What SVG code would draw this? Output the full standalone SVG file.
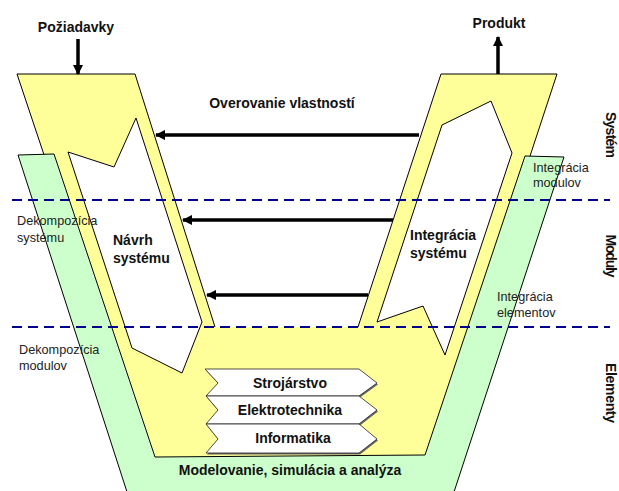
<svg xmlns="http://www.w3.org/2000/svg" width="619" height="491" viewBox="0 0 619 491">
<defs>
<style>
.t{font-family:"Liberation Sans",Arial,sans-serif;fill:#111}
.b{font-weight:bold;font-size:14px}
.r{font-size:12.7px;fill:#222}
.ln{fill:none;stroke:#000;stroke-width:1}
.dash{stroke:#00008b;stroke-width:2;stroke-dasharray:10 6;fill:none}
.arr{stroke:#000;stroke-width:3.5;fill:none;marker-end:url(#ah)}
.box{fill:#fff;stroke:#222;stroke-width:0.8}
.sh{fill:#666}
</style>
<marker id="ah" viewBox="0 0 10 10" refX="9" refY="5" markerWidth="3" markerHeight="3" orient="auto" markerUnits="strokeWidth">
<path d="M0,0 L10,5 L0,10 Z" fill="#000"/>
</marker>
</defs>
<rect width="619" height="491" fill="#fff"/>

<g id="yellow-v">
<path d="M17,74 L135,74 L215,327 L358,327 L441,74 L557,74 L430,460 L146,460 Z" fill="#ffff99"/>
<path class="ln" d="M215,327 L135,74 L17,74 L146,460 M358,327 L441,74 L557,74 L430,460"/>
</g>

<g id="green-v">
<path d="M18,155 L54,154 L155,457 L425,455 L525,156 L564,157 L453,495 L128,495 Z" fill="#ccffcc" stroke="#000" stroke-width="1"/>
</g>

<g id="navrh-notch">
<path d="M136,118 L114,167 L68,152 L132,348 L182,373 L202,322 Z" fill="#fff" stroke="#000" stroke-width="1"/>
</g>
<g id="integracia-notch">
<path d="M442,125 L491,101 L512,153 L445,355 L423,306 L377,322 Z" fill="#fff" stroke="#000" stroke-width="1"/>
</g>

<g id="levels">
<line class="dash" x1="12" y1="200" x2="610" y2="200"/>
<line class="dash" x1="12" y1="327" x2="610" y2="327"/>
</g>

<g id="strojarstvo">
<path class="sh" d="M206,370.5 L360,370.5 L378,384.5 L360,397.5 L207,397.5 L219,384.5 Z"/>
<path class="box" d="M205,369 L359,369 L377,383 L359,396 L206,396 L218,383 Z"/>
<text class="t b" x="290" y="388" text-anchor="middle">Strojárstvo</text>
</g>
<g id="elektrotechnika">
<path class="sh" d="M207,397.5 L360,397.5 L378,411.5 L360,425.5 L207,425.5 L219,411.5 Z"/>
<path class="box" d="M206,396 L359,396 L377,410 L359,424 L206,424 L218,410 Z"/>
<text class="t b" x="290" y="415" text-anchor="middle">Elektrotechnika</text>
</g>
<g id="informatika">
<path class="sh" d="M207,425.5 L360,425.5 L378,440.5 L360,454.5 L207,454.5 L219,440.5 Z"/>
<path class="box" d="M206,424 L359,424 L377,439 L359,453 L206,453 L218,439 Z"/>
<text class="t b" x="293" y="443" text-anchor="middle">Informatika</text>
</g>

<g id="connectors">
<line class="arr" x1="78" y1="39" x2="78" y2="74"/>
<line class="arr" x1="498" y1="74" x2="498" y2="37"/>
<line class="arr" x1="419" y1="135" x2="156" y2="135"/>
<line class="arr" x1="393" y1="220" x2="183" y2="220"/>
<line class="arr" x1="368" y1="295" x2="207" y2="295"/>
</g>

<g id="labels">
<text class="t b" x="76" y="32" text-anchor="middle">Požiadavky</text>
<text class="t b" x="499" y="28" text-anchor="middle">Produkt</text>
<text class="t b" x="282" y="108" text-anchor="middle">Overovanie vlastností</text>
<text class="t b" x="113" y="245">Návrh</text>
<text class="t b" x="113" y="263">systému</text>
<text class="t b" x="410" y="240">Integrácia</text>
<text class="t b" x="410" y="258">systému</text>
<text class="t b" x="290" y="475" text-anchor="middle">Modelovanie, simulácia a analýza</text>
<text class="t r" x="17" y="225">Dekompozícia</text>
<text class="t r" x="17" y="242">systému</text>
<text class="t r" x="19" y="354">Dekompozícia</text>
<text class="t r" x="19" y="370">modulov</text>
<text class="t r" x="533" y="172">Integrácia</text>
<text class="t r" x="533" y="187">modulov</text>
<text class="t r" x="497" y="301">Integrácia</text>
<text class="t r" x="497" y="317">elementov</text>
<text class="t b" font-size="13" transform="translate(606,135) rotate(90)" text-anchor="middle" textLength="46">Systém</text>
<text class="t b" font-size="13" transform="translate(606,256) rotate(90)" text-anchor="middle" textLength="43">Moduly</text>
<text class="t b" font-size="13" transform="translate(606,393) rotate(90)" text-anchor="middle" textLength="60">Elementy</text>
</g>
</svg>
